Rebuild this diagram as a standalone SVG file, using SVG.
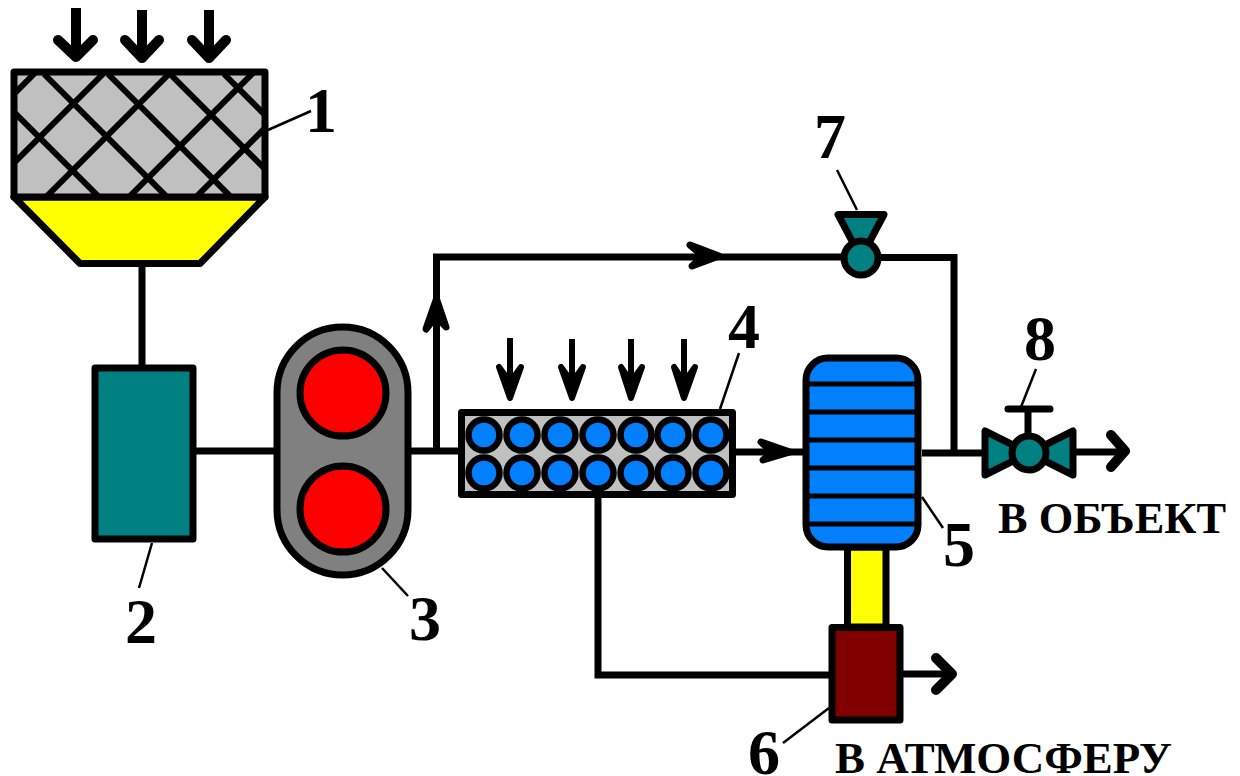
<svg xmlns="http://www.w3.org/2000/svg" width="1240" height="776" viewBox="0 0 1240 776">
<style>
.ln{fill:none;stroke:#000;stroke-width:7}
.sh{stroke:#000;stroke-width:7;stroke-linejoin:round}
.hat{fill:none;stroke:#000;stroke-width:6}
.stem{fill:none;stroke:#000;stroke-width:10}
.big{fill:none;stroke:#000;stroke-width:10;stroke-linecap:round;stroke-linejoin:round}
.tip{fill:#000;stroke:#000;stroke-width:7;stroke-linejoin:round}
.nar{fill:#000;stroke:#000;stroke-width:6;stroke-linejoin:round}
.ld{fill:none;stroke:#000;stroke-width:2.5}
.num{font:bold 64px "Liberation Serif",serif;fill:#000}
.cap{font:bold 44px "Liberation Serif",serif;fill:#000}
.teal{fill:#008080}.blue{fill:#0080ff}.red{fill:#f00}.yel{fill:#ff0}
</style>
<defs>
<clipPath id="hc"><rect x="14" y="72" width="251" height="125"/></clipPath>
</defs>
<rect width="1240" height="776" fill="#fff"/>
<g id="connectors">
<path class="ln" d="M142 263V366"/>
<path class="ln" d="M196 451H275"/>
<path class="ln" d="M411 451H460"/>
<path class="ln" d="M436.500 451V257H845"/>
<path class="ln" d="M878 257.500H954V453"/>
<path class="ln" stroke-width="6" d="M736 452H803"/>
<path class="ln" d="M922 453H985"/>
<path class="ln" d="M598 497V675H830"/>
<path class="ln" d="M903 674H950"/>
<path class="ln" d="M1073 452H1122"/>
<path class="tip" d="M426 329L436.500 299L446 327L436 316Z"/>
<path class="tip" d="M690 245L719 256L692 266L703 256Z"/>
<path class="tip" d="M761 442L790 452L763 460L772 452Z"/>
<path class="stem" d="M76 8V57M142 10V58M209 10V58"/>
<path class="big" d="M58 40L76 57L93 40"/>
<path class="big" d="M125 40L142 58L159 40"/>
<path class="big" d="M192 40L209 58L226 40"/>
<path class="big" d="M936 658L952 674L936 690"/>
<path class="big" d="M1111 435L1125 451L1111 467"/>
<path class="ld" d="M268 130L311 111M152 543L139 588M382 568L408 596M720 409L739 353M922 497L943 528M829 708L783 743M837 170L857 210M1036 369L1021 407"/>
</g>
<g id="node-1">
<path class="yel sh" d="M14 197H265L200 263.500H80Z"/>
<rect x="14" y="72" width="251" height="125" fill="#c0c0c0"/>
<g clip-path="url(#hc)">
<path class="hat" d="M14 112L102 200M44 74L170 200M108 74L234 200M170 74L296 200M224 74L350 200"/>
<path class="hat" d="M14 94L36 72M14 163L105 72M46 197L171 72M129 197L254 72M196 197L321 72"/>
</g>
<rect class="sh" x="14" y="72" width="251" height="125" fill="none"/>
</g>
<g id="node-2"><rect class="teal sh" x="95" y="368" width="98" height="171"/></g>
<g id="node-3">
<rect class="sh" x="277" y="327" width="131" height="248" rx="65.500" fill="#808080"/>
<circle class="red sh" cx="343" cy="393" r="43"/>
<circle class="red sh" cx="343" cy="509" r="43"/>
</g>
<g id="node-4">
<rect class="sh" x="461.500" y="412.500" width="271" height="82" fill="#c0c0c0"/>
<g class="blue" stroke="#000" stroke-width="6.500">
<circle cx="484" cy="435" r="15.500"/><circle cx="522" cy="435" r="15.500"/><circle cx="560" cy="435" r="15.500"/><circle cx="598" cy="435" r="15.500"/><circle cx="636" cy="435" r="15.500"/><circle cx="673" cy="435" r="15.500"/><circle cx="711" cy="435" r="15.500"/>
<circle cx="484" cy="473" r="15.500"/><circle cx="522" cy="473" r="15.500"/><circle cx="560" cy="473" r="15.500"/><circle cx="598" cy="473" r="15.500"/><circle cx="636" cy="473" r="15.500"/><circle cx="673" cy="473" r="15.500"/><circle cx="711" cy="473" r="15.500"/>
</g>
<path class="nar" d="M510 338V382M499 367L510 398L521 367L510 382Z"/>
<path class="nar" d="M572 339V382M561 367L572 398L583 367L572 382Z"/>
<path class="nar" d="M631 339V382M621 367L631 398L642 367L631 382Z"/>
<path class="nar" d="M684 339V382M674 367L684 398L695 367L684 382Z"/>
</g>
<g id="node-5">
<rect class="sh" x="847.500" y="547" width="38.500" height="80" fill="#ff0"/>
<rect class="blue sh" x="806" y="358" width="112" height="189" rx="22"/>
<path fill="none" stroke="#000" stroke-width="5" d="M806 384H918M806 412H918M806 440H918M806 468H918M806 496H918M806 524H918"/>
</g>
<g id="node-6"><rect class="sh" x="832" y="627.500" width="68" height="92.500" fill="#800000"/></g>
<g id="node-7">
<path class="teal sh" d="M838 214.500H884L861 258Z"/>
<circle class="teal sh" cx="861" cy="258" r="17"/>
</g>
<g id="node-8">
<path class="ln" d="M1028 409V436"/>
<path class="ln" stroke-linecap="round" d="M1008 409H1050"/>
<path class="teal sh" d="M985 431V475L1029 453Z"/>
<path class="teal sh" d="M1073 431V475L1029 453Z"/>
<circle class="teal sh" cx="1029" cy="453" r="17"/>
</g>
<g id="labels">
<text class="num" x="305" y="132">1</text>
<text class="num" x="125" y="643">2</text>
<text class="num" x="409" y="640">3</text>
<text class="num" x="728" y="348">4</text>
<text class="num" x="943" y="566">5</text>
<text class="num" x="748" y="774">6</text>
<text class="num" x="814" y="158">7</text>
<text class="num" x="1024" y="360">8</text>
<text class="cap" x="998" y="533" textLength="228" lengthAdjust="spacingAndGlyphs">В ОБЪЕКТ</text>
<text class="cap" x="835" y="773" textLength="337" lengthAdjust="spacingAndGlyphs">В АТМОСФЕРУ</text>
</g>
</svg>
